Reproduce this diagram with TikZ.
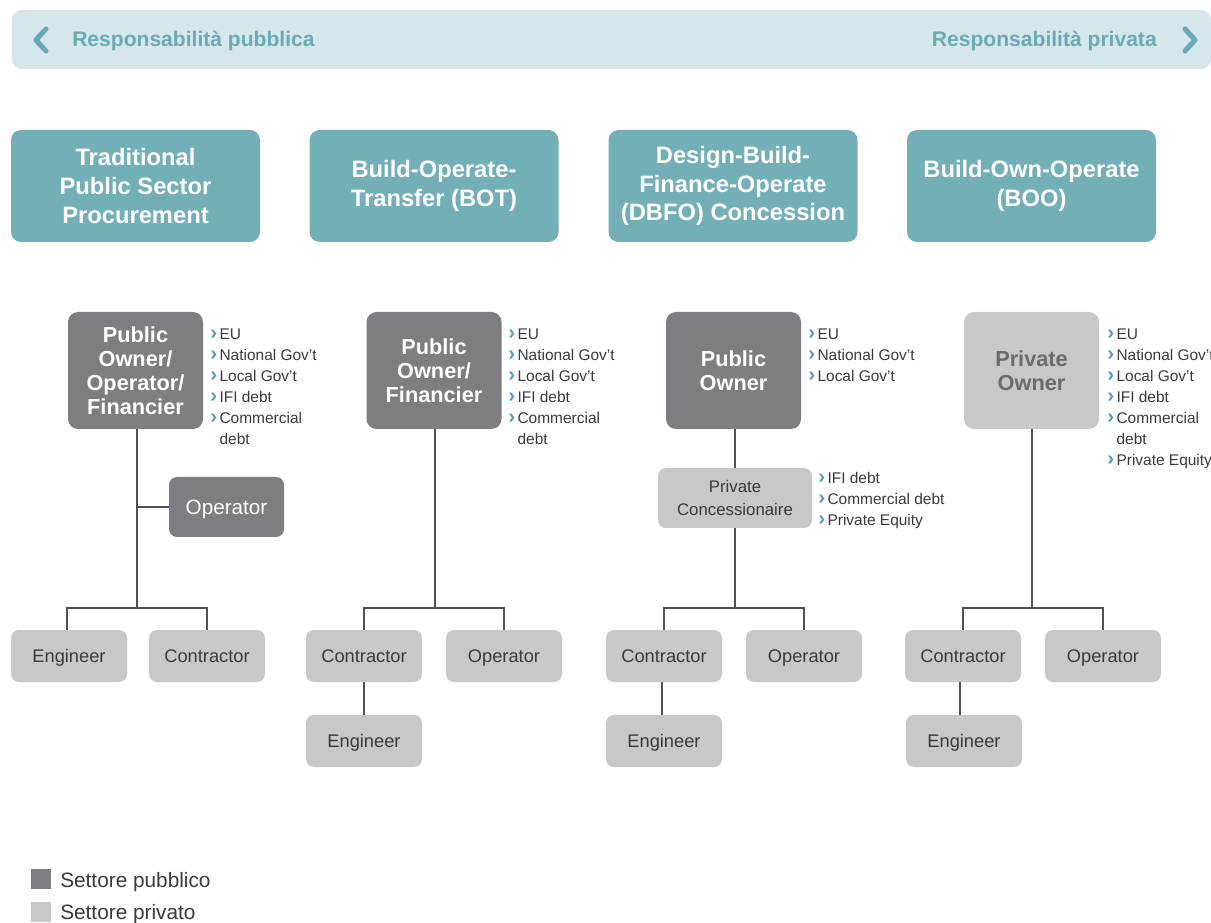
\documentclass[tikz,border=0pt]{standalone}
\usepackage{fontspec}
\setmainfont{Liberation Sans}
\usetikzlibrary{positioning}
\definecolor{bannerbg}{HTML}{D5E7EA}
\definecolor{bannertx}{HTML}{6AABB3}
\definecolor{tealhdr}{HTML}{72AFB6}
\definecolor{dkgrey}{HTML}{7E7E82}
\definecolor{ltgrey}{HTML}{C8C8CA}
\definecolor{linec}{HTML}{505052}
\definecolor{boxtx}{HTML}{3A3A3C}
\definecolor{privtx}{HTML}{6B6B6E}
\definecolor{chev}{HTML}{4DA2AC}
\newcommand{\chv}{{\color{chev}\fontsize{15.5}{0}\selectfont\bfseries ›}\hspace{1.8pt}}
\newcommand{\chvsp}{\phantom{\fontsize{15.5}{0}\selectfont\bfseries ›}\hspace{1.8pt}}
\begin{document}
\begin{tikzpicture}[x=0.75pt,y=-0.75pt,
  hdr/.style={fill=tealhdr, rounded corners=7.5pt, minimum width=186.75pt, minimum height=84pt,
    text=white, font=\fontsize{17.8}{21.6}\selectfont\bfseries, align=center, inner sep=0pt},
  pubown/.style={fill=dkgrey, rounded corners=7.5pt, minimum width=101.25pt, minimum height=87.75pt,
    text=white, font=\fontsize{16.3}{18}\selectfont\bfseries, align=center, inner sep=0pt},
  privown/.style={pubown, fill=ltgrey, text=privtx},
  sbox/.style={fill=ltgrey, rounded corners=6pt, minimum width=87pt, minimum height=39pt,
    text=boxtx, font=\fontsize{13.7}{16}\selectfont, align=center, inner sep=0pt,
    text height=10pt, text depth=1pt},
  opbox/.style={fill=dkgrey, rounded corners=6pt, minimum width=86.25pt, minimum height=45pt,
    text=white, font=\fontsize{15.5}{17}\selectfont, inner sep=0pt,
    text height=12pt, text depth=1pt},
  concbox/.style={sbox, minimum width=115.5pt, minimum height=45pt, font=\fontsize{12.6}{17.2}\selectfont,
    text height=, text depth=},
  blist/.style={anchor=north west, inner sep=0pt, align=left, text=boxtx,
    font=\fontsize{11.6}{15.75}\selectfont},
  conn/.style={draw=linec, line width=1.5pt},
  bantext/.style={text=bannertx, font=\fontsize{15.8}{17}\selectfont\bfseries, inner sep=0pt},
  banchev/.style={draw=bannertx, line width=3.8pt, line cap=round, line join=round},
  legsq/.style={minimum width=15pt, minimum height=15pt, inner sep=0pt},
  legtx/.style={anchor=west, text=boxtx, font=\fontsize{15.6}{17}\selectfont, inner sep=0pt}
]
\useasboundingbox (0,0) rectangle (1211,923);

% banner
\node[fill=bannerbg, rounded corners=7.5pt, minimum width=899.25pt, minimum height=44.25pt, inner sep=0pt] (banner) at (611.5,39.5) {};
\coordinate (lc1) at (46,29); \coordinate (lc2) at (36,40); \coordinate (lc3) at (46,51);
\draw[banchev] (lc1) -- (lc2) -- (lc3);
\coordinate (rc1) at (1185,29); \coordinate (rc2) at (1195,40); \coordinate (rc3) at (1185,51);
\draw[banchev] (rc1) -- (rc2) -- (rc3);
\node[bantext, anchor=west] (pub) at (72,41) {Responsabilità pubblica};
\node[bantext, anchor=east] (priv) at (1157,41) {Responsabilità privata};

% headers
\node[hdr] (h1) at (135.5,186) {Traditional\\Public Sector\\Procurement};
\node[hdr] (h2) at (434,186) {Build-Operate-\\Transfer (BOT)};
\node[hdr] (h3) at (733,186) {Design-Build-\\Finance-Operate\\(DBFO) Concession};
\node[hdr] (h4) at (1031.5,186) {Build-Own-Operate\\(BOO)};

% owners
\node[pubown] (o1) at (135.5,370.5) {Public\\Owner/\\Operator/\\Financier};
\node[pubown] (o2) at (434,370.5) {Public\\Owner/\\Financier};
\node[pubown] (o3) at (733.5,370.5) {Public\\Owner};
\node[privown] (o4) at (1031.5,370.5) {Private\\Owner};

% funding lists
\node[blist] (l1) at (210,328.5) {\chv EU\\\chv National Gov't\\\chv Local Gov't\\\chv IFI debt\\\chv Commercial\\\chvsp debt};
\node[blist] (l2) at (508,328.5) {\chv EU\\\chv National Gov't\\\chv Local Gov't\\\chv IFI debt\\\chv Commercial\\\chvsp debt};
\node[blist] (l3) at (808,328.5) {\chv EU\\\chv National Gov't\\\chv Local Gov't};
\node[blist] (l4) at (1107,328.5) {\chv EU\\\chv National Gov't\\\chv Local Gov't\\\chv IFI debt\\\chv Commercial\\\chvsp debt\\\chv Private Equity};
\node[blist] (l5) at (818,472.5) {\chv IFI debt\\\chv Commercial debt\\\chv Private Equity};

% column 1
\node[opbox] (op1) at (226.5,507) {Operator};
\node[sbox] (e1) at (69,656) {Engineer};
\node[sbox] (c1) at (207,656) {Contractor};
\coordinate (j1) at (137,608);
\draw[conn] (o1.south -| j1) -- (j1);
\draw[conn] (op1.west) -- (op1.west -| j1);
\draw[conn] (e1.north -| 67,0) |- (j1) -| (c1.north);

% column 2
\node[sbox] (c2) at (364,656) {Contractor};
\node[sbox] (op2) at (504,656) {Operator};
\node[sbox] (e2) at (364,741) {Engineer};
\coordinate (j2) at (435,608);
\draw[conn] (o2.south -| j2) -- (j2);
\draw[conn] (c2.north) |- (j2) -| (op2.north);
\draw[conn] (c2.south) -- (e2.north);

% column 3
\node[concbox] (pc3) at (735,498) {Private\\Concessionaire};
\node[sbox] (c3) at (664,656) {Contractor};
\node[sbox] (op3) at (804,656) {Operator};
\node[sbox] (e3) at (664,741) {Engineer};
\coordinate (j3) at (735,608);
\draw[conn] (o3.south -| j3) -- (pc3.north);
\draw[conn] (pc3.south) -- (j3);
\draw[conn] (c3.north) |- (j3) -| (op3.north);
\draw[conn] (c3.south -| 662,0) -- (e3.north -| 662,0);

% column 4
\node[sbox] (c4) at (963,656) {Contractor};
\node[sbox] (op4) at (1103,656) {Operator};
\node[sbox] (e4) at (964,741) {Engineer};
\coordinate (j4) at (1032,608);
\draw[conn] (o4.south -| j4) -- (j4);
\draw[conn] (c4.north) |- (j4) -| (op4.north);
\draw[conn] (c4.south -| 960,0) -- (e4.north -| 960,0);

% legend
\node[legsq, fill=dkgrey] (sq1) at (41,879) {};
\node[legtx] (t1) at (60,882) {Settore pubblico};
\node[legsq, fill=ltgrey] (sq2) at (41,912) {};
\node[legtx] (t2) at (60,914) {Settore privato};
\end{tikzpicture}
\end{document}
